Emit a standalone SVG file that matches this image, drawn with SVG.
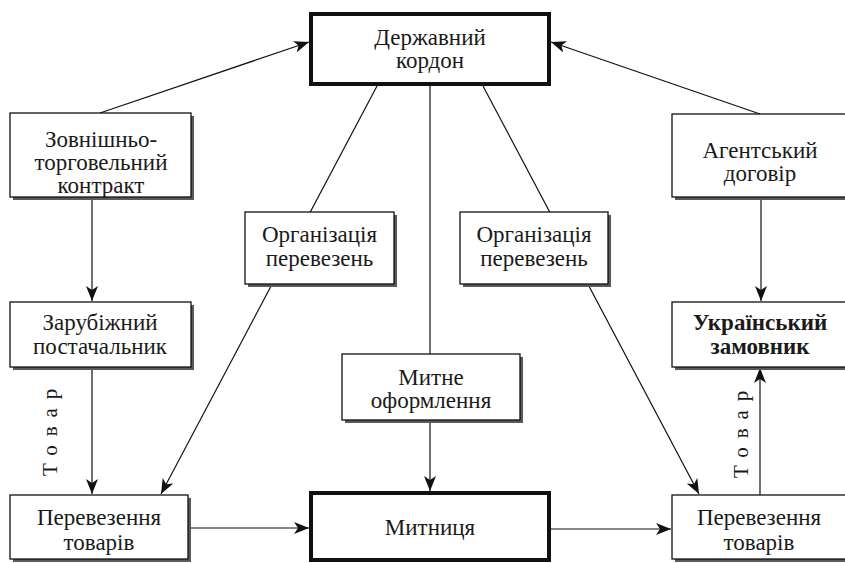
<svg xmlns="http://www.w3.org/2000/svg" width="845" height="563" viewBox="0 0 845 563">
<style>
  .box{fill:#fff;stroke:#111;stroke-width:1.3}
  .thick{fill:#fff;stroke:#111;stroke-width:4}
  .shadow{fill:#5a5a5a}
  .c{stroke:#111;stroke-width:1.2;fill:none}
  .t{font-family:'Liberation Serif','Times New Roman',serif;font-size:23px;text-anchor:middle;fill:#1a1a1a}
  .b{font-weight:bold}
  .lab{font-family:'Liberation Serif','Times New Roman',serif;font-size:21px;letter-spacing:9px;fill:#1a1a1a}
</style>
<defs>
  <marker id="ah" markerUnits="userSpaceOnUse" markerWidth="16" markerHeight="12" refX="15" refY="6" orient="auto">
    <path d="M0,0 L15,6 L0,12 L4,6 z" fill="#111"/>
  </marker>
</defs>
<rect width="845" height="563" fill="#fff"/>
<g id="connectors">
  <line class="c" x1="100" y1="113" x2="309" y2="42" marker-end="url(#ah)"/>
  <line class="c" x1="760" y1="114" x2="551" y2="42" marker-end="url(#ah)"/>
  <line class="c" x1="377" y1="86" x2="161" y2="494" marker-end="url(#ah)"/>
  <line class="c" x1="483" y1="86" x2="699" y2="494" marker-end="url(#ah)"/>
  <line class="c" x1="430" y1="86" x2="430" y2="491" marker-end="url(#ah)"/>
  <line class="c" x1="92" y1="197" x2="92" y2="301" marker-end="url(#ah)"/>
  <line class="c" x1="92" y1="367" x2="92" y2="494" marker-end="url(#ah)"/>
  <line class="c" x1="761" y1="197" x2="761" y2="301" marker-end="url(#ah)"/>
  <line class="c" x1="760" y1="495" x2="760" y2="368" marker-end="url(#ah)"/>
  <line class="c" x1="188" y1="528" x2="309" y2="528" marker-end="url(#ah)"/>
  <line class="c" x1="551" y1="529" x2="671" y2="529" marker-end="url(#ah)"/>
  <text class="lab" transform="translate(57,476) rotate(-90)">Товар</text>
  <text class="lab" transform="translate(748,478) rotate(-90)">Товар</text>
</g>
<g id="n-kordon">
  <rect class="thick" x="311" y="14" width="238" height="70"/>
  <text class="t" x="430" y="45">Державний</text>
  <text class="t" x="430" y="68">кордон</text>
</g>
<g id="n-contract">
  <rect class="shadow" x="13" y="116" width="181" height="84"/>
  <rect class="box" x="10" y="113" width="181" height="84"/>
  <text class="t" x="101" y="147">Зовнішньо-</text>
  <text class="t" x="101" y="170">торговельний</text>
  <text class="t" x="101" y="193">контракт</text>
</g>
<g id="n-agent">
  <rect class="shadow" x="675" y="117" width="176" height="83"/>
  <rect class="box" x="672" y="114" width="176" height="83"/>
  <text class="t" x="760" y="158">Агентський</text>
  <text class="t" x="760" y="181">договір</text>
</g>
<g id="n-org-left">
  <rect class="shadow" x="248" y="215" width="149" height="72"/>
  <rect class="box" x="245" y="212" width="149" height="72"/>
  <text class="t" x="319.5" y="242">Організація</text>
  <text class="t" x="319.5" y="266">перевезень</text>
</g>
<g id="n-org-right">
  <rect class="shadow" x="463" y="215" width="148" height="72"/>
  <rect class="box" x="460" y="212" width="148" height="72"/>
  <text class="t" x="534" y="242">Організація</text>
  <text class="t" x="534" y="266">перевезень</text>
</g>
<g id="n-supplier">
  <rect class="shadow" x="13" y="305" width="181" height="65"/>
  <rect class="box" x="10" y="302" width="181" height="65"/>
  <text class="t" x="100" y="330">Зарубіжний</text>
  <text class="t" x="100" y="354">постачальник</text>
</g>
<g id="n-customer">
  <rect class="shadow" x="675" y="305" width="176" height="65"/>
  <rect class="box" x="672" y="302" width="176" height="65"/>
  <text class="t b" x="760" y="330">Український</text>
  <text class="t b" x="760" y="354">замовник</text>
</g>
<g id="n-clearance">
  <rect class="shadow" x="345" y="357" width="178" height="66"/>
  <rect class="box" x="342" y="354" width="178" height="66"/>
  <text class="t" x="431" y="385">Митне</text>
  <text class="t" x="431" y="408">оформлення</text>
</g>
<g id="n-transport-left">
  <rect class="shadow" x="13" y="498" width="178" height="64"/>
  <rect class="box" x="10" y="495" width="178" height="64"/>
  <text class="t" x="99" y="525">Перевезення</text>
  <text class="t" x="99" y="550">товарів</text>
</g>
<g id="n-customs">
  <rect class="thick" x="311" y="493" width="238" height="67"/>
  <text class="t" x="430" y="535">Митниця</text>
</g>
<g id="n-transport-right">
  <rect class="shadow" x="675" y="498" width="176" height="64"/>
  <rect class="box" x="672" y="495" width="176" height="64"/>
  <text class="t" x="759" y="525">Перевезення</text>
  <text class="t" x="759" y="550">товарів</text>
</g>
</svg>
